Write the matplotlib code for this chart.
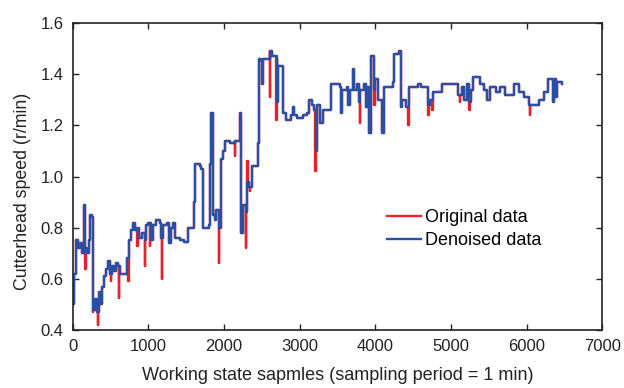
"""Cutterhead speed: original vs denoised working-state samples."""

import matplotlib
matplotlib.use("Agg")
import matplotlib.pyplot as plt
import numpy as np

# denoised series (sample, r/min)
den_x = [0, 20, 40, 70, 100, 125, 145, 165, 190, 210, 225, 260, 275, 300, 320,
         345, 365, 390, 420, 445, 470, 490, 515, 545, 570, 600, 620, 700, 720,
         745, 775, 800, 820, 850, 880, 920, 950, 965, 1000, 1030, 1060, 1100,
         1150, 1170, 1190, 1250, 1270, 1300, 1330, 1355, 1420, 1470, 1520, 1570,
         1600, 1620, 1680, 1700, 1725, 1800, 1815, 1830, 1860, 1880, 1900, 1930,
         1965, 1990, 2020, 2080, 2140, 2210, 2225, 2250, 2290, 2310, 2330, 2370,
         2430, 2445, 2465, 2495, 2505, 2515, 2570, 2605, 2630, 2695, 2700, 2715,
         2780, 2820, 2885, 2910, 2925, 2960, 3040, 3100, 3125, 3160, 3190, 3215,
         3230, 3275, 3310, 3410, 3540, 3550, 3565, 3620, 3640, 3660, 3700, 3715,
         3760, 3780, 3800, 3850, 3880, 3900, 3920, 3940, 3980, 4000, 4030, 4095,
         4110, 4230, 4250, 4310, 4335, 4360, 4400, 4445, 4560, 4600, 4700, 4730,
         4770, 4880, 5100, 5150, 5180, 5210, 5240, 5270, 5290, 5390, 5440, 5480,
         5520, 5590, 5650, 5720, 5830, 5900, 5970, 6030, 6160, 6230, 6280, 6345,
         6360, 6390, 6405, 6470]
den_y = [0.50, 0.62, 0.75, 0.72, 0.74, 0.70, 0.89, 0.72, 0.70, 0.75, 0.85, 0.84,
         0.48, 0.52, 0.47, 0.55, 0.50, 0.57, 0.61, 0.64, 0.67, 0.62, 0.65, 0.63,
         0.66, 0.65, 0.62, 0.62, 0.68, 0.75, 0.79, 0.82, 0.79, 0.80, 0.76, 0.78,
         0.75, 0.81, 0.82, 0.75, 0.81, 0.83, 0.82, 0.76, 0.81, 0.82, 0.74, 0.80,
         0.82, 0.76, 0.75, 0.745, 0.80, 0.80, 0.90, 1.05, 1.04, 1.03, 0.80, 0.81,
         1.05, 1.25, 0.85, 0.83, 0.87, 0.80, 1.07, 1.10, 1.14, 1.13, 1.14, 1.25,
         0.78, 0.89, 0.86, 0.98, 0.96, 1.04, 1.04, 1.13, 1.46, 1.45, 1.36, 1.46,
         1.46, 1.49, 1.47, 1.46, 1.29, 1.43, 1.25, 1.22, 1.24, 1.27, 1.24, 1.23,
         1.24, 1.25, 1.30, 1.28, 1.26, 1.10, 1.28, 1.21, 1.26, 1.36, 1.35, 1.25,
         1.34, 1.35, 1.28, 1.34, 1.42, 1.34, 1.36, 1.29, 1.34, 1.36, 1.27, 1.35,
         1.17, 1.47, 1.34, 1.38, 1.30, 1.17, 1.35, 1.37, 1.48, 1.49, 1.27, 1.30,
         1.27, 1.35, 1.36, 1.35, 1.28, 1.30, 1.33, 1.36, 1.32, 1.35, 1.30, 1.36,
         1.29, 1.34, 1.39, 1.36, 1.34, 1.30, 1.35, 1.33, 1.35, 1.32, 1.36, 1.33,
         1.31, 1.28, 1.30, 1.33, 1.38, 1.29, 1.38, 1.31, 1.37, 1.36]

# short excursions that only the original (noisy) data shows
spike_x = [165, 270, 330, 505, 610, 735, 855, 955, 1020, 1175, 1615, 1932, 2140,
           2286, 2310, 2345, 2605, 2692, 3210, 3792, 3990, 4435, 4700, 4752,
           5115, 5245, 6040]
spike_y = [0.64, 0.47, 0.42, 0.59, 0.525, 0.59, 0.73, 0.65, 0.73, 0.60, 0.93,
           0.66, 1.08, 0.72, 1.06, 0.945, 1.31, 1.22, 1.02, 1.21, 1.28, 1.20,
           1.24, 1.26, 1.29, 1.26, 1.24]

SPIKE_W = 5  # samples


def original_series(dx, dy, sx, sy, w=SPIKE_W):
    """Denoised steps with the original excursions put back in."""
    dx = np.asarray(dx, float)
    dy = np.asarray(dy, float)
    sx = np.asarray(sx, float)
    sy = np.asarray(sy, float)
    back = dy[np.searchsorted(dx, sx + w, side="right") - 1]
    x = np.concatenate([dx, sx, sx + w])
    y = np.concatenate([dy, sy, back])
    order = np.argsort(x, kind="stable")
    return x[order], y[order]


plt.rcParams["font.family"] = ["Liberation Sans", "DejaVu Sans"]

fig = plt.figure(figsize=(6.24, 3.88), dpi=100)
ax = fig.add_axes([0.1165, 0.1495, 0.8485, 0.7912])

ox, oy = original_series(den_x, den_y, spike_x, spike_y)
ax.plot(ox, oy, drawstyle="steps-post", color="#e8202a", lw=1.7, label="Original data")
ax.plot(den_x, den_y, drawstyle="steps-post", color="#2b4fa3", lw=1.7, label="Denoised data")

ax.set_xlim(0, 7000)
ax.set_ylim(0.4, 1.6)
ax.set_xticks(np.arange(0, 7001, 1000))
ax.set_yticks(np.arange(0.4, 1.61, 0.2))
ax.yaxis.set_major_formatter(matplotlib.ticker.FormatStrFormatter("%.1f"))
ax.tick_params(direction="in", top=True, right=True, length=4, width=1,
               labelsize=12, colors="#222222", pad=6.5)
for s in ax.spines.values():
    s.set_linewidth(1.2)
    s.set_color("#222222")

ax.set_xlabel("Working state sapmles (sampling period = 1 min)", fontsize=13,
              color="#222222")
ax.set_ylabel("Cutterhead speed (r/min)", fontsize=12.8, color="#222222")
ax.xaxis.set_label_coords(0.5, -0.12)
ax.yaxis.set_label_coords(-0.078, 0.45)

ax.legend(loc="upper left", bbox_to_anchor=(0.593, 0.393), frameon=False,
          fontsize=13, handlelength=1.9, handletextpad=0.25, labelspacing=0.33,
          borderpad=0, borderaxespad=0)

fig.savefig("out.png", dpi=100)
plt.close(fig)
